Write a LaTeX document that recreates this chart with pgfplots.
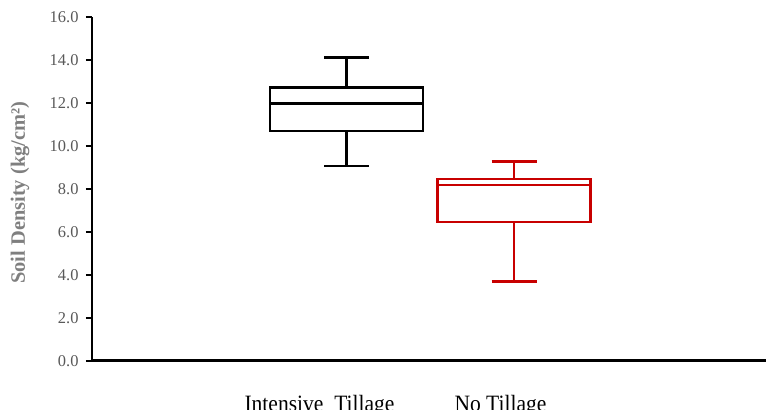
\documentclass[border=0pt]{standalone}
\usepackage{pgfplots}
\pgfplotsset{compat=1.18}
\usepgfplotslibrary{statistics}
\usepackage{fontspec}
\setmainfont{Liberation Serif}
\newfontfamily\catfont[FakeStretch=0.92]{Liberation Serif}
\definecolor{tickgray}{HTML}{595959}
\definecolor{labgray}{HTML}{7F7F7F}
\definecolor{boxred}{HTML}{C80000}
\begin{document}
\begin{tikzpicture}
\begin{axis}[
  name=ax, scale only axis, width=674bp, height=344bp,
  xmin=0, xmax=674, ymin=0, ymax=16,
  axis x line*=bottom, axis y line*=left,
  axis line style={line width=2.8bp, black},
  ytick={0,2,...,16},
  /pgf/number format/assume math mode=true,
  yticklabel style={font=\fontsize{16.5}{16.5}\selectfont, text=tickgray,
    /pgf/number format/fixed, /pgf/number format/fixed zerofill,
    /pgf/number format/precision=1, xshift=-4bp},
  ytick style={line width=2.2bp, black},
  tick align=outside, major tick length=6bp,
  xtick={227.5,408.5},
  xticklabels={Intensive\ \ Tillage, No Tillage},
  xtick style={draw=none},
  xticklabel style={anchor=base, yshift=-45bp, font=\catfont\fontsize{23.5}{23.5}\selectfont, text=black},
  ylabel={Soil Density (kg/cm²)},
  ylabel style={at={(axis description cs:0,0.5)}, anchor=center, yshift=72bp, xshift=-4bp,
    font=\bfseries\fontsize{20.5}{20.5}\selectfont, text=labgray},
]
\addplot+[draw=black, solid, mark=none, line width=2.5bp, boxplot/draw direction=y,
  boxplot prepared={draw position=254.7,
  lower whisker=9.06, lower quartile=10.68, median=11.97,
  upper quartile=12.70, upper whisker=14.11, box extend=153, whisker extend=45}] coordinates {};
\addplot+[draw=boxred, solid, mark=none, line width=2.5bp, boxplot/draw direction=y,
  boxplot prepared={draw position=422,
  lower whisker=3.69, lower quartile=6.45, median=8.17,
  upper quartile=8.44, upper whisker=9.26, box extend=153, whisker extend=45}] coordinates {};
\end{axis}
\pgfresetboundingbox
\path[use as bounding box] ([xshift=-92bp,yshift=-49.3bp]ax.south west) rectangle ([yshift=16.7bp]ax.north east);
\end{tikzpicture}
\end{document}
